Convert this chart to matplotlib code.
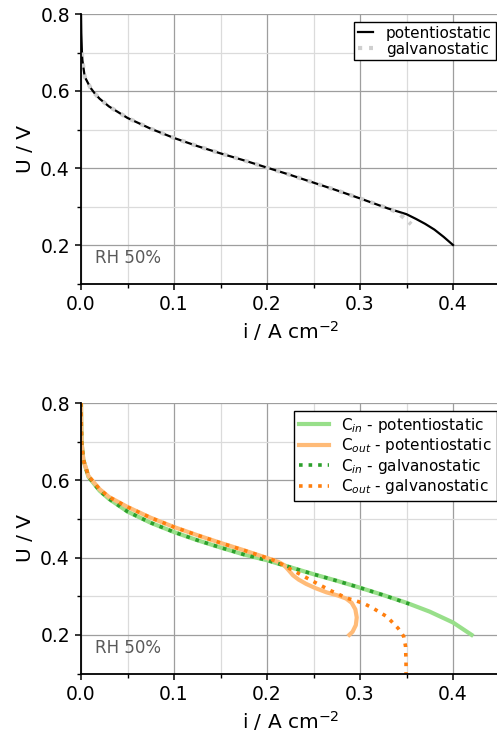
import matplotlib
matplotlib.use("Agg")
import matplotlib.pyplot as plt
from matplotlib.ticker import MultipleLocator

# ---- polarisation curves, RH 50 % ----
# top panel: whole cell
pot_i = [0.0, 0.0003, 0.001, 0.0015, 0.004, 0.01, 0.015, 0.02, 0.03, 0.05, 0.075, 0.1,
         0.125, 0.15, 0.175, 0.2, 0.225, 0.25, 0.275, 0.3, 0.33, 0.35, 0.36, 0.37,
         0.38, 0.39, 0.4]
pot_u = [0.80, 0.75, 0.70, 0.68, 0.637, 0.609, 0.593, 0.580, 0.560, 0.530, 0.502, 0.478,
         0.457, 0.438, 0.420, 0.401, 0.382, 0.362, 0.342, 0.321, 0.295, 0.280, 0.268,
         0.255, 0.240, 0.221, 0.200]

gal_i = [0.001, 0.0015, 0.004, 0.01, 0.015, 0.02, 0.03, 0.05, 0.075, 0.1, 0.125, 0.15,
         0.175, 0.2, 0.225, 0.25, 0.275, 0.3, 0.33, 0.34, 0.345, 0.35, 0.355]
gal_u = [0.70, 0.68, 0.637, 0.609, 0.593, 0.580, 0.560, 0.530, 0.502, 0.478, 0.457, 0.438,
         0.420, 0.401, 0.382, 0.362, 0.342, 0.321, 0.295, 0.285, 0.275, 0.265, 0.254]

# bottom panel: inlet / outlet segments
cin_pot_i = [0.0, 0.0003, 0.0007, 0.0025, 0.008, 0.02, 0.03, 0.05, 0.075, 0.1, 0.125,
             0.15, 0.175, 0.2, 0.225, 0.25, 0.275, 0.3, 0.325, 0.35, 0.375, 0.4, 0.41, 0.42]
cin_pot_u = [0.80, 0.74, 0.696, 0.653, 0.609, 0.573, 0.552, 0.519, 0.490, 0.466, 0.445,
             0.426, 0.408, 0.393, 0.375, 0.357, 0.340, 0.322, 0.303, 0.283, 0.260, 0.232,
             0.216, 0.200]

cout_pot_i = [0.0, 0.0003, 0.0007, 0.0025, 0.008, 0.02, 0.03, 0.05, 0.075, 0.1, 0.125,
              0.15, 0.175, 0.2, 0.212, 0.218, 0.223, 0.228, 0.234, 0.242, 0.252, 0.264,
              0.276, 0.285, 0.291, 0.295, 0.2965, 0.2955, 0.292, 0.2885]
cout_pot_u = [0.80, 0.74, 0.696, 0.653, 0.611, 0.577, 0.557, 0.531, 0.503, 0.479,
              0.458, 0.438, 0.419, 0.399, 0.389, 0.381, 0.368, 0.354, 0.343, 0.332, 0.321,
              0.310, 0.302, 0.294, 0.283, 0.266, 0.245, 0.225, 0.208, 0.200]

cin_gal_i = [0.0, 0.0003, 0.0007, 0.0025, 0.008, 0.02, 0.03, 0.05, 0.075, 0.1, 0.125,
             0.15, 0.175, 0.2, 0.225, 0.25, 0.275, 0.3, 0.325, 0.353]
cin_gal_u = [0.80, 0.74, 0.696, 0.653, 0.609, 0.573, 0.552, 0.519, 0.490, 0.466, 0.445,
             0.426, 0.408, 0.393, 0.375, 0.357, 0.340, 0.322, 0.303, 0.280]

cout_gal_i = [0.0, 0.0003, 0.0007, 0.0025, 0.008, 0.02, 0.03, 0.05, 0.075, 0.1, 0.125,
              0.15, 0.175, 0.2, 0.21, 0.22, 0.2355, 0.2445, 0.253, 0.268, 0.286, 0.3035,
              0.314, 0.329, 0.341, 0.347, 0.349, 0.3495, 0.3495]
cout_gal_u = [0.80, 0.74, 0.696, 0.653, 0.611, 0.577, 0.557, 0.531, 0.503, 0.479,
              0.458, 0.438, 0.419, 0.399, 0.391, 0.377, 0.357, 0.345, 0.334, 0.315, 0.295,
              0.282, 0.269, 0.247, 0.217, 0.196, 0.170, 0.130, 0.100]

W, H = 497, 733
fig = plt.figure(figsize=(W / 100, H / 100), dpi=100)

left = 81 / W
width = (499.5 - 81) / W


def style_axes(ax):
    ax.set_xlim(0, 0.45)
    ax.set_ylim(0.1, 0.8)
    ax.xaxis.set_major_locator(MultipleLocator(0.1))
    ax.xaxis.set_minor_locator(MultipleLocator(0.05))
    ax.yaxis.set_major_locator(MultipleLocator(0.2))
    ax.yaxis.set_minor_locator(MultipleLocator(0.1))
    ax.grid(which="major", color="0.62", lw=0.9)
    ax.grid(which="minor", color="0.86", lw=0.9)
    ax.set_axisbelow(True)
    for s in ("top", "right"):
        ax.spines[s].set_visible(False)
    for s in ("left", "bottom"):
        ax.spines[s].set_linewidth(1.3)
    ax.tick_params(which="major", labelsize=13.5, length=4.5, width=1.1)
    ax.tick_params(which="minor", length=3, width=1.0)
    ax.set_xlabel(r"i / A cm$^{-2}$", fontsize=14.5)
    ax.set_ylabel("U / V", fontsize=14.5)
    ax.text(0.034, 0.06, "RH 50%", transform=ax.transAxes, fontsize=12,
            color="0.35", ha="left", va="bottom")


ax1 = fig.add_axes([left, 1 - 283.5 / H, width, (283.5 - 14) / H])
ax2 = fig.add_axes([left, 1 - 673.5 / H, width, (673.5 - 403) / H])

# top: whole cell
ax1.plot(pot_i, pot_u, color="black", lw=1.6, label="potentiostatic")
ax1.plot(gal_i, gal_u, color="#cfcfcf", lw=3.0, ls=":", label="galvanostatic")
style_axes(ax1)
ax1.legend(loc="upper right", bbox_to_anchor=(0.997, 1 - 22 / H),
           bbox_transform=fig.transFigure, borderaxespad=0, fontsize=11,
           fancybox=False, edgecolor="black", framealpha=1, handlelength=1.0,
           labelspacing=0.05, borderpad=0.25, handletextpad=0.8)

# bottom: inlet and outlet
ax2.plot(cin_pot_i, cin_pot_u, color="#98df8a", lw=3, label=r"C$_{in}$ - potentiostatic")
ax2.plot(cout_pot_i, cout_pot_u, color="#ffbb78", lw=3, label=r"C$_{out}$ - potentiostatic")
ax2.plot(cin_gal_i, cin_gal_u, color="#2ca02c", lw=2.6, ls=":", label=r"C$_{in}$ - galvanostatic")
ax2.plot(cout_gal_i, cout_gal_u, color="#ff7f0e", lw=2.6, ls=":", label=r"C$_{out}$ - galvanostatic")
style_axes(ax2)
ax2.legend(loc="upper right", bbox_to_anchor=(0.999, 1 - 411 / H),
           bbox_transform=fig.transFigure, borderaxespad=0, fontsize=11,
           fancybox=False, edgecolor="black", framealpha=1, handlelength=2.0,
           labelspacing=0.1, borderpad=0.3, handletextpad=0.8)

fig.savefig("out.png", dpi=100)
